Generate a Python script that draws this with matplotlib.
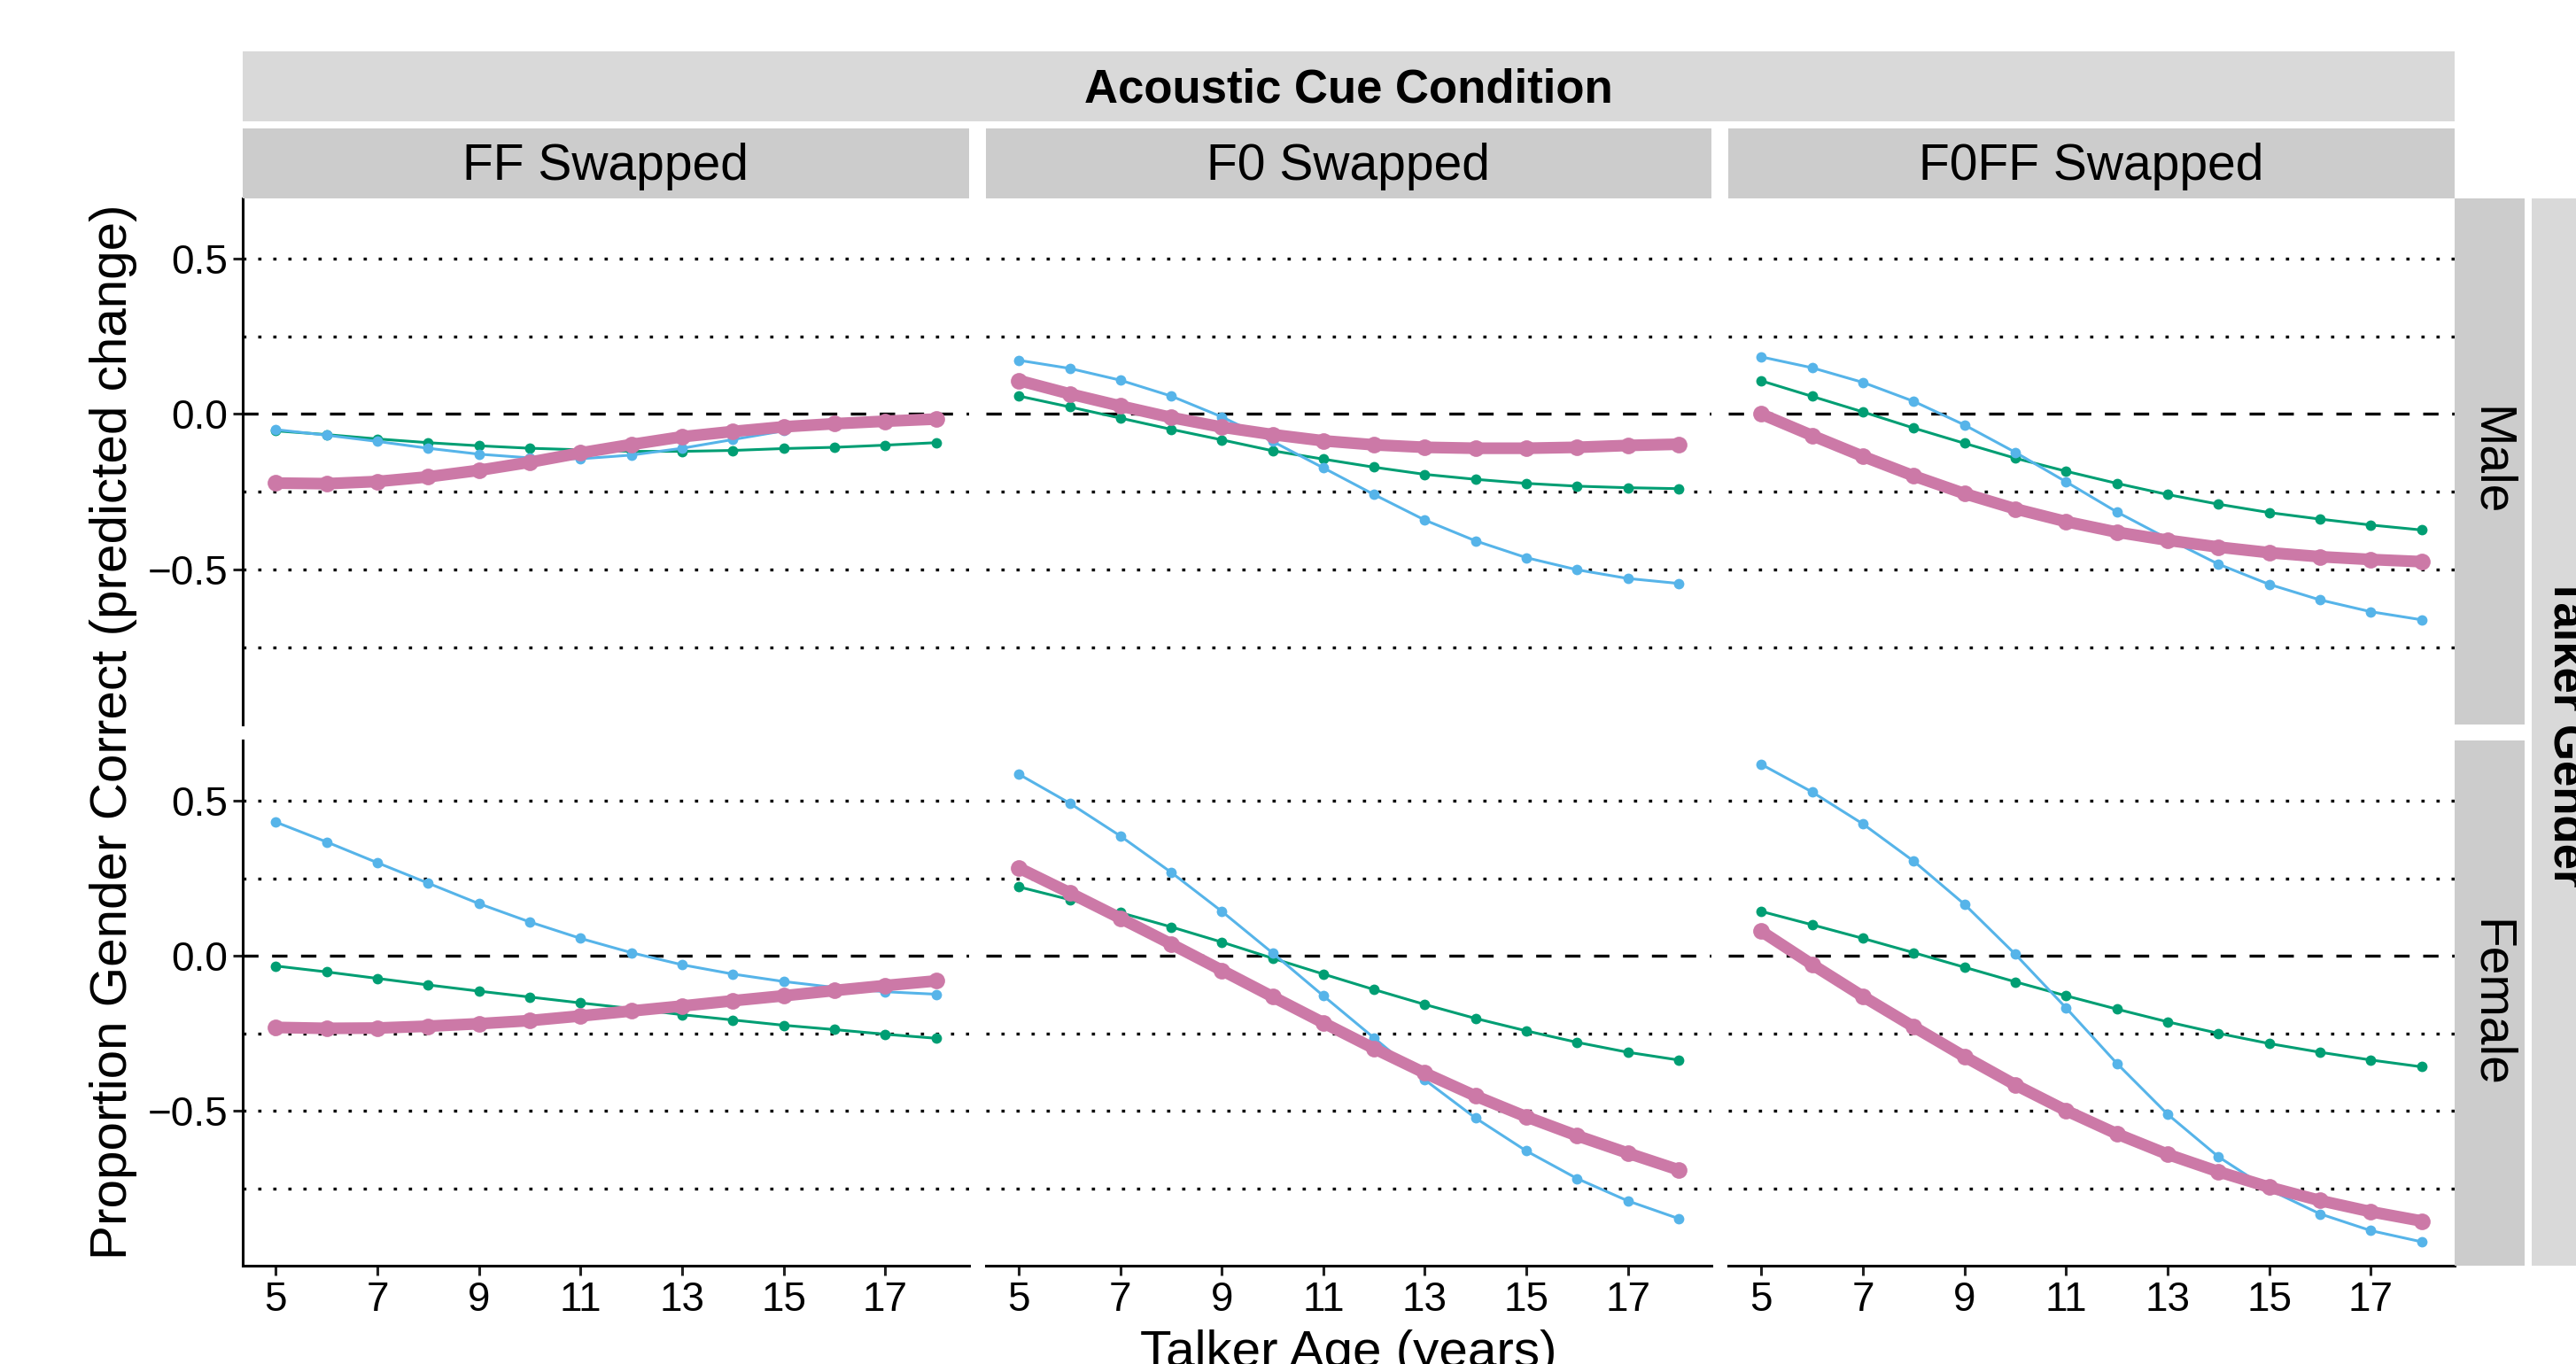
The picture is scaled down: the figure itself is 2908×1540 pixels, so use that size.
import matplotlib
matplotlib.use("Agg")
import matplotlib.pyplot as plt
from matplotlib.ticker import FixedLocator, FuncFormatter

plt.rcParams['font.family'] = ['Liberation Sans', 'DejaVu Sans']

# ---------------- data ----------------
ages = [5, 6, 7, 8, 9, 10, 11, 12, 13, 14, 15, 16, 17, 18]
conditions = ["FF Swapped", "F0 Swapped", "F0FF Swapped"]
genders = ["Male", "Female"]
x_ticks = [5, 7, 9, 11, 13, 15, 17]
y_major = [-0.5, 0.0, 0.5]
y_grid = [-0.75, -0.5, -0.25, 0.25, 0.5]

# Male talkers
ff_male_blue  = [-0.050, -0.068, -0.088, -0.110, -0.129, -0.141, -0.144, -0.132, -0.110, -0.082, -0.054, -0.034, -0.019, -0.009]
ff_male_green = [-0.054, -0.066, -0.080, -0.092, -0.102, -0.110, -0.115, -0.120, -0.120, -0.117, -0.111, -0.107, -0.100, -0.092]
ff_male_pink  = [-0.222, -0.224, -0.217, -0.202, -0.181, -0.155, -0.125, -0.098, -0.073, -0.056, -0.041, -0.031, -0.023, -0.016]

f0_male_blue  = [0.173, 0.147, 0.109, 0.058, -0.009, -0.088, -0.173, -0.259, -0.341, -0.408, -0.462, -0.501, -0.529, -0.545]
f0_male_green = [0.058, 0.023, -0.013, -0.049, -0.083, -0.118, -0.145, -0.171, -0.194, -0.210, -0.223, -0.232, -0.237, -0.240]
f0_male_pink  = [0.108, 0.065, 0.026, -0.011, -0.042, -0.066, -0.086, -0.099, -0.107, -0.110, -0.110, -0.107, -0.101, -0.097]

f0ff_male_blue  = [0.184, 0.149, 0.102, 0.041, -0.035, -0.123, -0.218, -0.315, -0.401, -0.483, -0.548, -0.598, -0.636, -0.662]
f0ff_male_green = [0.107, 0.057, 0.007, -0.045, -0.094, -0.142, -0.184, -0.223, -0.259, -0.290, -0.317, -0.338, -0.357, -0.373]
f0ff_male_pink  = [0.000, -0.069, -0.136, -0.199, -0.256, -0.305, -0.346, -0.380, -0.406, -0.428, -0.446, -0.459, -0.468, -0.475]

# Female talkers
ff_female_blue  = [0.431, 0.367, 0.300, 0.234, 0.168, 0.109, 0.056, 0.010, -0.029, -0.059, -0.083, -0.102, -0.116, -0.124]
ff_female_green = [-0.033, -0.052, -0.073, -0.094, -0.114, -0.133, -0.152, -0.170, -0.190, -0.207, -0.224, -0.238, -0.253, -0.266]
ff_female_pink  = [-0.231, -0.234, -0.233, -0.227, -0.219, -0.209, -0.194, -0.178, -0.162, -0.145, -0.129, -0.112, -0.096, -0.081]

f0_female_blue  = [0.585, 0.492, 0.386, 0.269, 0.143, 0.009, -0.129, -0.265, -0.400, -0.523, -0.629, -0.718, -0.790, -0.847]
f0_female_green = [0.222, 0.181, 0.139, 0.093, 0.044, -0.008, -0.059, -0.109, -0.157, -0.202, -0.242, -0.279, -0.311, -0.336]
f0_female_pink  = [0.283, 0.203, 0.121, 0.038, -0.047, -0.132, -0.216, -0.299, -0.378, -0.452, -0.519, -0.580, -0.636, -0.690]

f0ff_female_blue  = [0.617, 0.528, 0.425, 0.305, 0.166, 0.005, -0.168, -0.347, -0.511, -0.648, -0.754, -0.832, -0.886, -0.922]
f0ff_female_green = [0.143, 0.100, 0.056, 0.010, -0.037, -0.084, -0.129, -0.172, -0.213, -0.250, -0.283, -0.311, -0.336, -0.358]
f0ff_female_pink  = [0.079, -0.028, -0.131, -0.229, -0.325, -0.416, -0.499, -0.574, -0.640, -0.696, -0.746, -0.789, -0.825, -0.855]

panel_data = {
    ("Male", "FF Swapped"): (ff_male_green, ff_male_blue, ff_male_pink),
    ("Male", "F0 Swapped"): (f0_male_green, f0_male_blue, f0_male_pink),
    ("Male", "F0FF Swapped"): (f0ff_male_green, f0ff_male_blue, f0ff_male_pink),
    ("Female", "FF Swapped"): (ff_female_green, ff_female_blue, ff_female_pink),
    ("Female", "F0 Swapped"): (f0_female_green, f0_female_blue, f0_female_pink),
    ("Female", "F0FF Swapped"): (f0ff_female_green, f0ff_female_blue, f0ff_female_pink),
}

# ---------------- layout (pixels) ----------------
W, H = 2908, 1540
col_px = [(274, 1094), (1113, 1932), (1951, 2771)]
row_px = [(224, 818), (836, 1429)]
col_strip_y = (145, 224)
outer_top_y = (58, 137)
row_strip_x = (2771, 2850)
outer_right_x = (2858, 2937)

def fig_rect(x0, y0, x1, y1):
    return [x0 / W, 1 - y1 / H, (x1 - x0) / W, (y1 - y0) / H]

fig = plt.figure(figsize=(W / 100, H / 100), dpi=100)
fig.patch.set_facecolor("white")

BLUE, GREEN, PINK = "#56B4E9", "#009E73", "#CC79A7"
STRIP_IN, STRIP_OUT = "#CCCCCC", "#D9D9D9"
STRIP_FS = 41
TICK_FS = 33
TITLE_FS = 42

ylim = (-0.999, 0.694)
xlim = (4.35, 18.65)
fmt = FuncFormatter(lambda v, p: f"{v:.1f}".replace("-", "\u2212"))

for ri, g in enumerate(genders):
    for ci, c in enumerate(conditions):
        x0, x1 = col_px[ci]
        y0, y1 = row_px[ri]
        ax = fig.add_axes(fig_rect(x0, y0, x1, y1))
        ax.set_xlim(*xlim)
        ax.set_ylim(*ylim)
        ax.set_facecolor("white")
        for s in ax.spines.values():
            s.set_visible(False)
        ax.yaxis.set_major_locator(FixedLocator(y_major))
        ax.xaxis.set_major_locator(FixedLocator(x_ticks))
        ax.grid(False)
        for gy in y_grid:
            ax.axhline(gy, color="black", lw=2.4, linestyle=(0, (1.1, 4.0)), zorder=0)
        ax.axhline(0, color="black", lw=2.4, linestyle=(0, (5.2, 4.6)), zorder=1)
        if ci == 0:
            ax.spines["left"].set_visible(True)
            ax.spines["left"].set_linewidth(2.2)
            ax.tick_params(axis="y", which="major", length=8, width=2.2,
                           labelsize=TICK_FS, pad=4, color="#222222")
            ax.yaxis.set_major_formatter(fmt)
        else:
            ax.tick_params(axis="y", which="major", length=0, labelleft=False)
        if ri == 1:
            ax.spines["bottom"].set_visible(True)
            ax.spines["bottom"].set_linewidth(2.2)
            ax.tick_params(axis="x", length=8, width=2.2, labelsize=TICK_FS,
                           pad=4, color="#222222")
        else:
            ax.tick_params(axis="x", length=0, labelbottom=False)

        green, blue, pink = panel_data[(g, c)]
        ax.plot(ages, green, color=GREEN, lw=2.2, marker="o", ms=8.5,
                markeredgewidth=0, zorder=3)
        ax.plot(ages, blue, color=BLUE, lw=2.2, marker="o", ms=8.5,
                markeredgewidth=0, zorder=4)
        ax.plot(ages, pink, color=PINK, lw=9.5, marker="o", ms=13.5,
                markeredgewidth=0, zorder=5, solid_capstyle="round")

def strip(x0, y0, x1, y1, color, text, rot=0, bold=False, fs=STRIP_FS):
    sax = fig.add_axes(fig_rect(x0, y0, x1, y1))
    sax.set_facecolor(color)
    sax.set_xticks([])
    sax.set_yticks([])
    for s in sax.spines.values():
        s.set_visible(False)
    if rot == 0:
        tx, ty = 0.5, 0.45
    else:
        tx, ty = 0.5, 0.5
    sax.text(tx, ty, text, ha="center", va="center", rotation=rot,
             fontsize=fs, fontweight="bold" if bold else "normal",
             transform=sax.transAxes, clip_on=False)
    return sax

for ci, c in enumerate(conditions):
    x0, x1 = col_px[ci]
    strip(x0, col_strip_y[0], x1, col_strip_y[1], STRIP_IN, c)
strip(col_px[0][0], outer_top_y[0], col_px[2][1], outer_top_y[1], STRIP_OUT,
      "Acoustic Cue Condition", bold=True, fs=38)
for ri, g in enumerate(genders):
    y0, y1 = row_px[ri]
    strip(row_strip_x[0], y0, row_strip_x[1], y1, STRIP_IN, g, rot=-90)
strip(outer_right_x[0], row_px[0][0], outer_right_x[1], row_px[1][1], STRIP_OUT,
      "Talker Gender", rot=-90, bold=True, fs=38)

fig.text(128 / W, 1 - 826.5 / H, "Proportion Gender Correct (predicted change)",
         rotation=90, ha="center", va="center", fontsize=TITLE_FS)
fig.text((col_px[0][0] + col_px[2][1]) / 2 / W, 1 - 1543 / H, "Talker Age (years)",
         ha="center", va="baseline", fontsize=TITLE_FS)

fig.savefig("out.png", dpi=100, facecolor="white")
